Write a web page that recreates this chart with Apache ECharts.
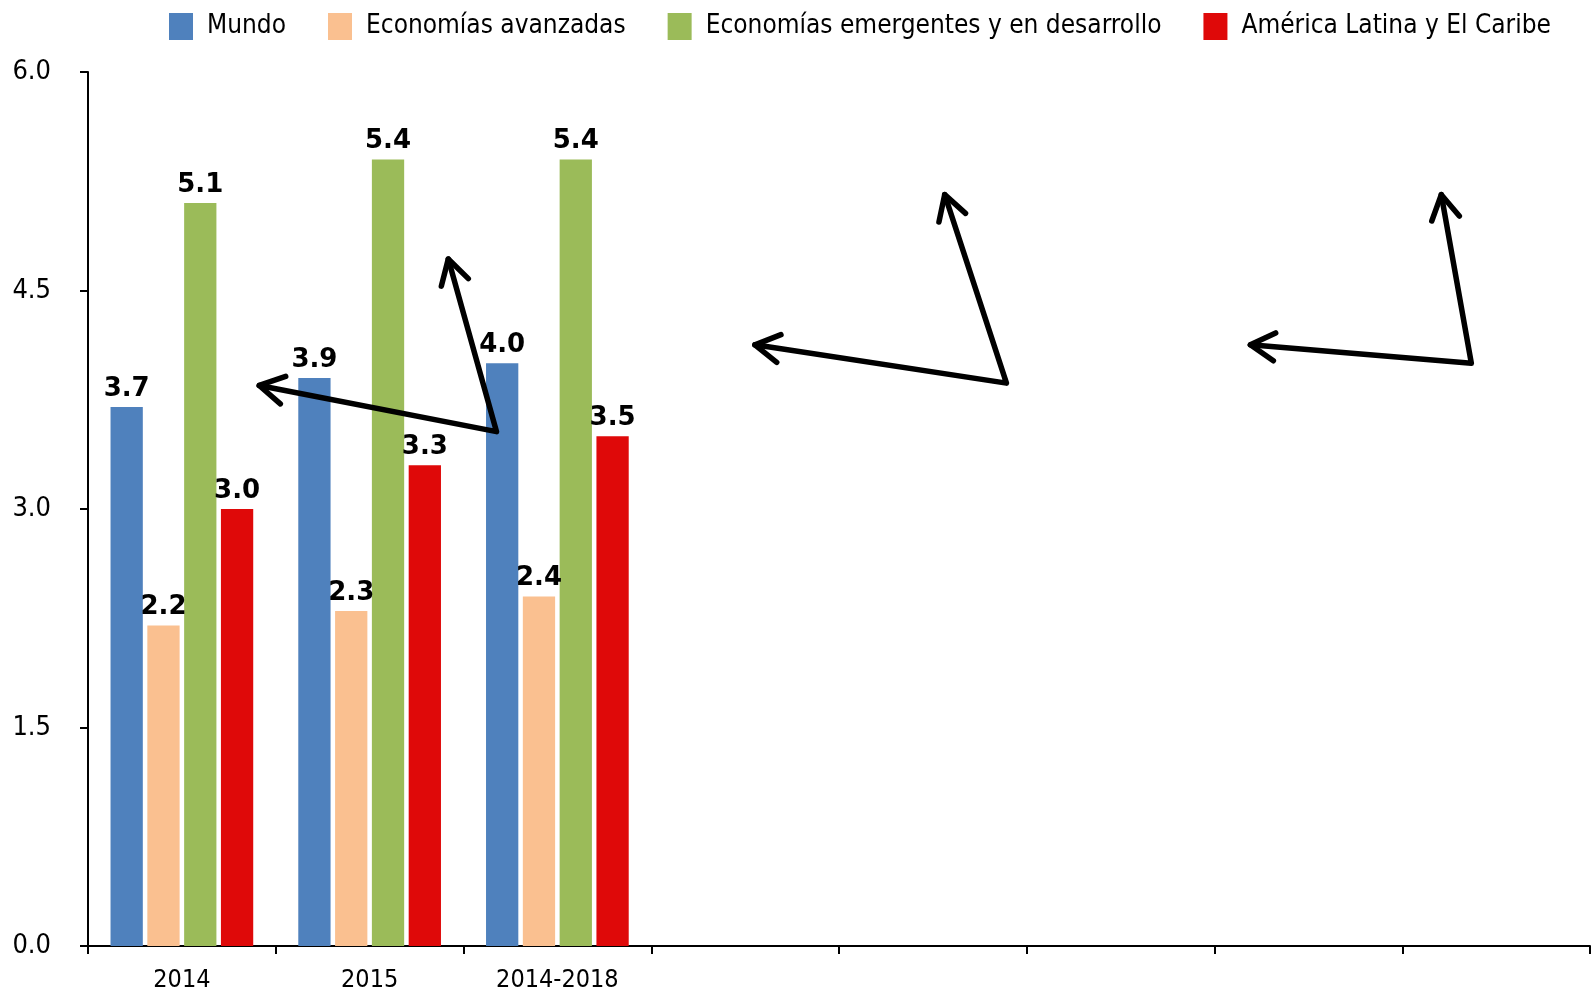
<!DOCTYPE html>
<html>
<head>
<meta charset="utf-8">
<script src="https://cdn.jsdelivr.net/npm/echarts@6/dist/echarts.min.js"></script>
<style>
  html, body { margin: 0; padding: 0; background: #fff; }
  #chart { width: 1592px; height: 993px; }
</style>
</head>
<body>
<div id="chart"></div>
<script>
// Categories on the x axis (eight slots, only the first three labelled)
const categories = ['2014', '2015', '2014-2018', '', '', '', '', ''];

// Growth values per group
const mundo       = [3.7, 3.9, 4.0];
const avanzadas   = [2.2, 2.3, 2.4];
const emergentes  = [5.1, 5.4, 5.4];
const latam       = [3.0, 3.3, 3.5];

const seriesNames = [
  'Mundo',
  'Economías avanzadas',
  'Economías emergentes y en desarrollo',
  'América Latina y El Caribe'
];

// Y axis ticks
const yTicks = [0.0, 1.5, 3.0, 4.5, 6.0];

// Arrow annotations in data units: [vertex x, vertex y, left tip x, left tip y, up tip x, up tip y]
// (x measured in category slots from the left edge of the plot)
const arrows = [
  [2.176, 3.531, 0.912, 3.848, 1.919, 4.716],
  [4.892, 3.864, 3.552, 4.127, 4.563, 5.158],
  [7.368, 4.001, 6.191, 4.127, 7.208, 5.158]
];

const colors = ['#4F81BD', '#FAC090', '#9BBB59', '#DF0909'];
const FONT = '"DejaVu Sans Condensed", "DejaVu Sans", sans-serif';

function barSeries(name, data, color) {
  return {
    name: name,
    type: 'bar',
    data: data,
    barGap: '14%',
    barCategoryGap: '24%',
    itemStyle: { color: color },
    label: {
      show: true,
      position: 'top',
      distance: 5,
      formatter: p => p.value.toFixed(1),
      color: '#000',
      fontFamily: '"DejaVu Sans", sans-serif',
      fontWeight: 'bold',
      fontSize: 26
    }
  };
}

// Open chevron arrowhead at tip pointing away from "from"
function arrowHead(tip, from, len, ang) {
  const dx = from[0] - tip[0], dy = from[1] - tip[1];
  const d = Math.hypot(dx, dy);
  const ux = dx / d, uy = dy / d;
  const rot = (a) => [ux * Math.cos(a) - uy * Math.sin(a), ux * Math.sin(a) + uy * Math.cos(a)];
  const r1 = rot(ang), r2 = rot(-ang);
  return [
    [tip[0] + r1[0] * len, tip[1] + r1[1] * len],
    tip,
    [tip[0] + r2[0] * len, tip[1] + r2[1] * len]
  ];
}

const lineStyle = { stroke: '#000', lineWidth: 5.5, lineCap: 'round', lineJoin: 'round', fill: null };

const option = {
  backgroundColor: '#fff',
  animation: false,
  legend: {
    data: seriesNames,
    left: 164,
    top: 8,
    itemWidth: 24,
    itemHeight: 27,
    itemGap: 42,
    icon: 'rect',
    textStyle: {
      fontFamily: FONT,
      fontSize: 26,
      color: '#000',
      padding: [0, 0, 0, 9]
    }
  },
  grid: { left: 88, right: 2, top: 72, bottom: 47, containLabel: false },
  xAxis: [
    {
      type: 'category',
      data: categories,
      axisLine: { lineStyle: { color: '#000', width: 2 } },
      axisTick: { show: true, length: 8, lineStyle: { color: '#000', width: 2 } },
      axisLabel: { color: '#000', fontFamily: FONT, fontSize: 25, margin: 22, interval: 0 }
    },
    { type: 'value', min: 0, max: 8, show: false }
  ],
  yAxis: {
    type: 'value',
    min: yTicks[0],
    max: yTicks[yTicks.length - 1],
    interval: 1.5,
    splitLine: { show: false },
    axisLine: { show: true, lineStyle: { color: '#000', width: 2 } },
    axisTick: { show: true, length: 8, lineStyle: { color: '#000', width: 2 } },
    axisLabel: {
      color: '#000', fontFamily: FONT, fontSize: 27, margin: 37,
      formatter: v => v.toFixed(1)
    }
  },
  series: [
    barSeries(seriesNames[0], mundo, colors[0]),
    barSeries(seriesNames[1], avanzadas, colors[1]),
    barSeries(seriesNames[2], emergentes, colors[2]),
    barSeries(seriesNames[3], latam, colors[3]),
    {
      type: 'custom',
      xAxisIndex: 1,
      yAxisIndex: 0,
      z: 10,
      clip: false,
      silent: true,
      data: arrows,
      renderItem: function (params, api) {
        const v = api.coord([api.value(0), api.value(1)]);
        const l = api.coord([api.value(2), api.value(3)]);
        const u = api.coord([api.value(4), api.value(5)]);
        const ang = 30 * Math.PI / 180;
        return {
          type: 'group',
          children: [
            { type: 'polyline', shape: { points: [l, v, u] }, style: lineStyle },
            { type: 'polyline', shape: { points: arrowHead(l, v, 28, ang) }, style: lineStyle },
            { type: 'polyline', shape: { points: arrowHead(u, v, 28, ang) }, style: lineStyle }
          ]
        };
      }
    }
  ]
};

const chart = echarts.init(document.getElementById('chart'), null, { renderer: 'canvas' });
chart.setOption(option);
</script>
</body>
</html>
